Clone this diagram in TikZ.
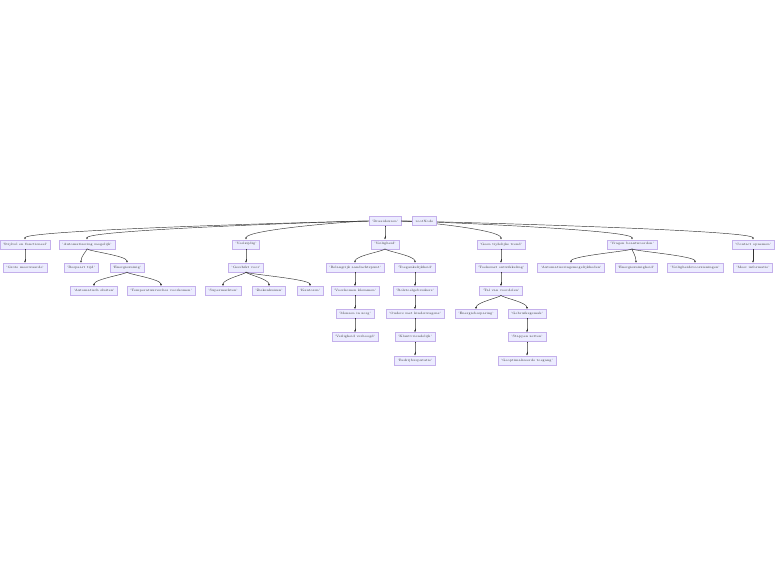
\documentclass[tikz,border=0pt]{standalone}
\usepackage{tikz}
\usetikzlibrary{positioning,arrows.meta}
\definecolor{mmfill}{HTML}{ECECFF}
\definecolor{mmline}{HTML}{9370DB}
\definecolor{mmedge}{HTML}{333333}

\begin{document}
\begin{tikzpicture}[-{Latex[length=2pt,width=2pt]}, x=1pt, y=1pt, on grid, node distance=23.2pt and 30pt,
    box/.style={rectangle, fill=mmfill, draw=mmline!55, line width=0.3pt, text=mmedge, font=\fontsize{3.2}{4}\selectfont, inner xsep=3pt, inner ysep=0pt, minimum height=9pt},
    down/.style={draw=mmedge, line width=0.45pt, out=-90, in=90, out distance=2pt, in distance=7pt},
    rootleft/.style={draw=mmedge, line width=0.45pt, out=180, in=90, out distance=15pt, in distance=10pt},
    rootright/.style={draw=mmedge, line width=0.45pt, out=0, in=90, out distance=15pt, in distance=10pt}]
\useasboundingbox (0,0) rectangle (784,-582);
			\node [box] (root) at (385,-221) {'Draaideuren'};
			\node [box] (stijl) [below left=23.2pt and 360pt of root] {'Stijlvol en functioneel'};
			\node [box] (auto) [below left=23.2pt and 298pt of root] {'Automatisering mogelijk'};
			\node [box] (veel) [below left=23.2pt and 139pt of root] {'Veelzijdig'};
			\node [box] (veilig) [below=of root] {'Veiligheid'};
			\node [box] (trend) [below right=23.2pt and 116pt of root] {'Geen tijdelijke trend'};
			\node [box] (vragen) [below right=23.2pt and 247pt of root] {'Vragen beantwoorden'};
			\node [box] (contact) [below right=23.2pt and 368pt of root] {'Contact opnemen'};
			% tweede laag
			\node [box] (grote) [below=of stijl] {'Grote meerwaarde'};
			\node [box] (tijd) [below left=23.2pt and 6pt of auto] {'Bespaart tijd'};
			\node [box] (zuinig) [below right=23.2pt and 40pt of auto] {'Energiezuinig'};
			\node [box] (sluiten) [below left=23.2pt and 33pt of zuinig] {'Automatisch sluiten'};
			\node [box] (temp) [below right=23.2pt and 34pt of zuinig] {'Temperatuurverlies voorkomen'};
			\node [box] (geschikt) [below=of veel] {'Geschikt voor'};
			\node [box] (super) [below left=23.2pt and 23pt of geschikt] {'Supermarkten'};
			\node [box] (zieken) [below right=23.2pt and 23pt of geschikt] {'Ziekenhuizen'};
			\node [box] (kantoor) [below right=23.2pt and 64pt of geschikt] {'Kantoren'};
			\node [box] (punt) [below left=23.2pt and 30pt of veilig] {'Belangrijk aandachtspunt'};
			\node [box] (toegang) [below right=23.2pt and 30pt of veilig] {'Toegankelijkheid'};
			\node [box] (klem) [below=of punt] {'Voorkomen klemmen'};
			\node [box] (zorg) [below=of klem] {'Mensen in zorg'};
			\node [box] (hoger) [below=of zorg] {'Veiligheid verhoogd'};
			\node [box] (rolstoel) [below=of toegang] {'Rolstoelgebruikers'};
			\node [box] (ouders) [below=of rolstoel] {'Ouders met kinderwagens'};
			\node [box] (klant) [below=of ouders] {'Klantvriendelijk'};
			\node [box] (reputatie) [below=of klant] {'Bedrijfsreputatie'};
			\node [box] (toekomst) [below=of trend] {'Toekomst ontwikkeling'};
			\node [box] (voordeel) [below=of toekomst] {'Tal van voordelen'};
			\node [box] (besparing) [below left=23.2pt and 25pt of voordeel] {'Energiebesparing'};
			\node [box] (gemak) [below right=23.2pt and 26pt of voordeel] {'Gebruiksgemak'};
			\node [box] (stappen) [below=of gemak] {'Stappen zetten'};
			\node [box] (optimaal) [below=of stappen] {'Geoptimaliseerde toegang'};
			\node [box] (mogelijk) [below left=23.2pt and 61pt of vragen] {'Automatiseringsmogelijkheden'};
			\node [box] (zuinigheid) [below right=23.2pt and 4pt of vragen] {'Energiezuinigheid'};
			\node [box] (voorziening) [below right=23.2pt and 63pt of vragen] {'Veiligheidsvoorzieningen'};
			\node [box] (info) [below=of contact] {'Meer informatie'};
			\path (root) edge [rootleft] (stijl);
			\path (root) edge [rootleft] (auto);
			\path (root) edge [rootleft] (veel);
			\path (root) edge [down] (veilig);
			\path (root) edge [rootright] (trend);
			\path (root) edge [rootright] (vragen);
			\path (root) edge [rootright] (contact);
			\path (stijl) edge [down] (grote);
			\path (auto) edge [down] (tijd);
			\path (auto) edge [down] (zuinig);
			\path (zuinig) edge [down] (sluiten);
			\path (zuinig) edge [down] (temp);
			\path (veel) edge [down] (geschikt);
			\path (geschikt) edge [down] (super);
			\path (geschikt) edge [down] (zieken);
			\path (geschikt) edge [down] (kantoor);
			\path (veilig) edge [down] (punt);
			\path (veilig) edge [down] (toegang);
			\path (punt) edge [down] (klem);
			\path (klem) edge [down] (zorg);
			\path (zorg) edge [down] (hoger);
			\path (toegang) edge [down] (rolstoel);
			\path (rolstoel) edge [down] (ouders);
			\path (ouders) edge [down] (klant);
			\path (klant) edge [down] (reputatie);
			\path (trend) edge [down] (toekomst);
			\path (toekomst) edge [down] (voordeel);
			\path (voordeel) edge [down] (besparing);
			\path (voordeel) edge [down] (gemak);
			\path (gemak) edge [down] (stappen);
			\path (stappen) edge [down] (optimaal);
			\path (vragen) edge [down] (mogelijk);
			\path (vragen) edge [down] (zuinigheid);
			\path (vragen) edge [down] (voorziening);
			\path (contact) edge [down] (info);
			% losse knoop naast de wortel
			\node [box] (rootnode) [right=39.5pt of root] {rootNode};
		\end{tikzpicture}
\end{document}
